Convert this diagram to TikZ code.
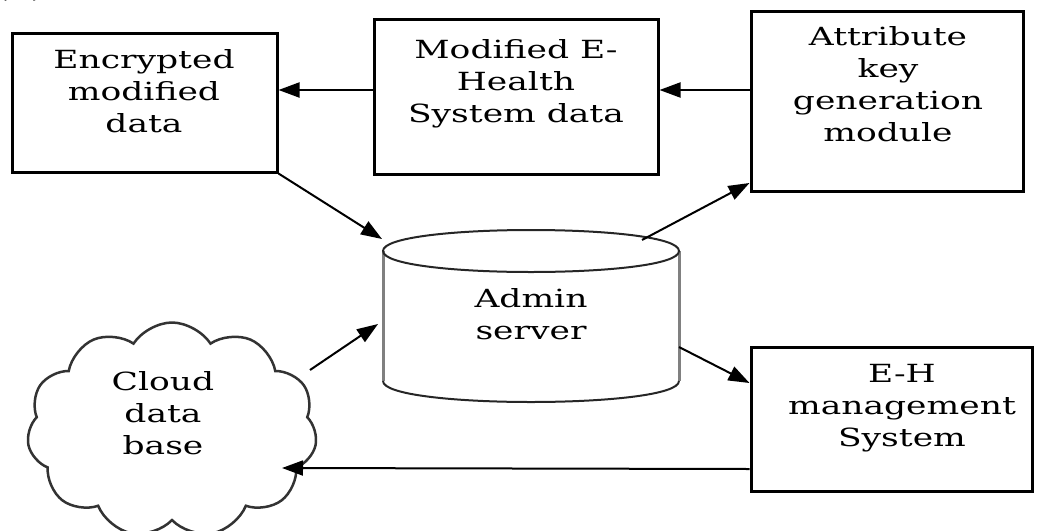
\documentclass[tikz,border=0pt]{standalone}
\usepackage{fontspec}
\newfontfamily\lblfont[FakeStretch=1.38]{DejaVu Serif}
\usetikzlibrary{arrows.meta,shapes.symbols}

\begin{document}
\begin{tikzpicture}[x=1pt,y=-1pt,
  box/.style={draw, line width=3pt, inner sep=0pt},
  lbl/.style={font=\lblfont\fontsize{25}{32}\selectfont, align=center, inner sep=0pt, anchor=base},
  arr/.style={line width=2pt, -{Triangle[length=21pt,width=15pt]}},
  cylside/.style={draw=gray, line width=3pt},
  cylrim/.style={draw=black!85, line width=2pt},
]
\useasboundingbox (0,0) rectangle (1043,530);

% figure tag at the top edge
\begin{scope}
  \clip (0,0) rectangle (120,30);
  \node[lbl] (tag) at (20,-2) {(b)};
\end{scope}

% rectangular blocks
\node[box, minimum width=265pt, minimum height=139pt] (enc)  at (144.5,102.5) {};
\node[box, minimum width=284pt, minimum height=155pt] (mod)  at (516,96.5) {};
\node[box, minimum width=272pt, minimum height=180pt] (attr) at (887,101) {};
\node[box, minimum width=281pt, minimum height=144pt] (ehm)  at (891.5,419) {};

% labels (anchored at the baseline of the last line)
\node[lbl] (enc-t)  at (144,132) {Encrypted\\modified\\data};
\node[lbl] (mod-t)  at (516,122) {Modified E-\\Health\\System data};
\node[lbl] (attr-t) at (888,141) {Attribute\\key\\generation\\module};
\node[lbl] (ehm-t)  at (902,446) {E-H\\management\\System};

% cloud storage
\node[cloud, draw=black!80, line width=2.5pt, cloud puffs=11, cloud puff arc=115,
      cloud ignores aspect, minimum width=290pt, minimum height=215pt, inner sep=0pt]
      (cloud) at (172,430) {};
\node[lbl] (cloud-t) at (163,454) {Cloud\\data\\base};

% admin server drawn as a cylinder
\draw[cylside] (383,251) -- (383,381) (679,251) -- (679,381);
\draw[cylrim] (383,381) .. controls (383,409) and (679,409) .. (679,381);
\draw[cylrim] (383,251) .. controls (383,223) and (679,223) .. (679,251)
              .. controls (679,279) and (383,279) .. (383,251);
\node[lbl] (admin) at (531,339) {Admin\\server};

\coordinate (cyl-in1)  at (382,239);
\coordinate (cyl-in2)  at (378,324);
\coordinate (cyl-out1) at (642,240);
\coordinate (cyl-out2) at (679,347);
\coordinate (cloud-out) at (310,370);
\coordinate (cloud-in)  at (282,468);

% connectors
\draw[arr] (mod.west |- 0,90)  -- (enc.east |- 0,90);
\draw[arr] (attr.west |- 0,90) -- (mod.east |- 0,90);
\draw[arr] (enc.south east) -- (cyl-in1);
\draw[arr] (cyl-out1) -- (attr.west |- 0,183);
\draw[arr] (cyl-out2) -- (ehm.west |- 0,383);
\draw[arr] (cloud-out) -- (cyl-in2);
\draw[arr] (ehm.west |- 0,469) -- (cloud-in);
\end{tikzpicture}
\end{document}
